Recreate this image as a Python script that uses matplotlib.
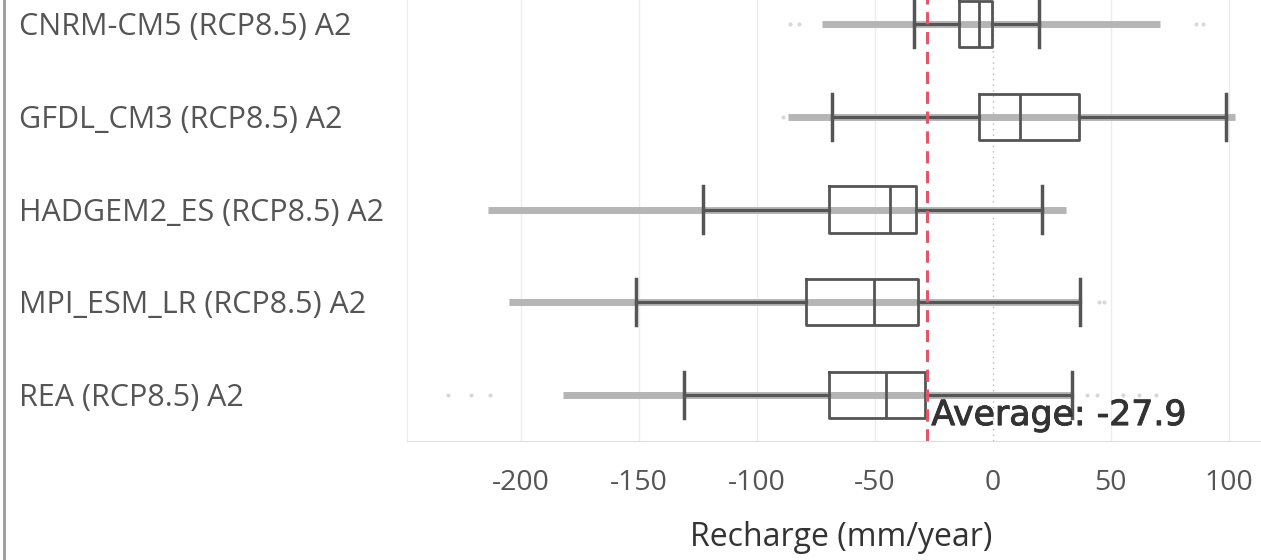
import matplotlib
matplotlib.use("Agg")
import matplotlib.pyplot as plt
from matplotlib.lines import Line2D
from matplotlib.transforms import blended_transform_factory, offset_copy
import matplotlib.patheffects as pe

models = ["CNRM-CM5 (RCP8.5) A2", "GFDL_CM3 (RCP8.5) A2", "HADGEM2_ES (RCP8.5) A2",
          "MPI_ESM_LR (RCP8.5) A2", "REA (RCP8.5) A2"]
whislo = [-33.5, -68.3, -122.7, -151.3, -131.0]
q1 = [-14.4, -5.8, -69.5, -79.2, -69.3]
med = [-5.9, 11.4, -43.7, -50.4, -45.3]
q3 = [-0.3, 36.5, -32.6, -31.6, -28.6]
whishi = [19.7, 98.7, 20.7, 36.9, 33.5]
strip_lo = [-72.5, -87.0, -214.0, -205.0, -182.0]
strip_hi = [71.0, 102.5, 31.0, 37.0, 33.5]
faint_pts = [[-86, -82, 86, 89], [-89], [], [45, 47], [-231, -221, -213, 40, 44, 55, 62, 69]]
average = -27.9
xticks = [-200, -150, -100, -50, 0, 50, 100]

W, H = 1261, 560
fig = plt.figure(figsize=(W / 100, H / 100), dpi=100)
left_px, right_px, bottom_px, top_px = 407, 1261, 441, -22
ax = fig.add_axes([left_px / W, (H - bottom_px) / H, (right_px - left_px) / W,
                   (bottom_px - top_px) / H])
ax.set_xlim(-248.3, 113.6)
ax.set_ylim(len(models) - 0.5, -0.5)

pos = list(range(len(models)))
for x in xticks:
    if x == 0:
        ax.axvline(0, color="#b8b8b8", lw=1.0, ls=(0, (1, 3)), zorder=0)
    else:
        ax.axvline(x, color="#ececec", lw=1.0, zorder=0)

# strips of points
ax.hlines(pos, strip_lo, strip_hi, color="#b5b5b5", lw=5.0, zorder=1)
for p, pts in zip(pos, faint_pts):
    ax.plot(pts, [p] * len(pts), ls="none", marker="o", ms=3, color="#d8d8d8",
            mec="none", zorder=1)

stats = []
for i in range(len(models)):
    stats.append(dict(med=med[i], q1=q1[i], q3=q3[i], whislo=whislo[i], whishi=whishi[i],
                      fliers=[]))
lc = "#555555"
ax.bxp(stats, positions=pos, widths=0.5, capwidths=0.5, vert=False, showfliers=False,
       patch_artist=False,
       boxprops=dict(color=lc, lw=2.0),
       medianprops=dict(color=lc, lw=2.0),
       whiskerprops=dict(color=lc, lw=2.3),
       capprops=dict(color=lc, lw=2.5), manage_ticks=False)

ax.axvline(average, color="#e0566a", lw=2.2, ls=(0, (4, 2.5)), zorder=5)
ax.text(average + 1.8, 4.22, f"Average: {average}", fontsize=25, color="#333333",
        family="DejaVu Sans", va="center", ha="left", zorder=6,
        path_effects=[pe.withStroke(linewidth=0.7, foreground="#333333")])

for s in ["top", "right"]:
    ax.spines[s].set_visible(False)
ax.spines["left"].set_color("#ececec")
ax.spines["bottom"].set_color("#dddddd")
ax.set_yticks([])
ax.set_xticks(xticks)
ax.set_xticklabels([str(x) for x in xticks])
ax.tick_params(axis="x", length=0, pad=20, labelsize=20.5, labelcolor="#555555")
for t in ax.get_xticklabels():
    t.set_family("Open Sans")

trans = offset_copy(blended_transform_factory(fig.transFigure, ax.transData),
                    fig=fig, x=0, y=-3, units="dots")
for p, m in zip(pos, models):
    ax.text(19 / W, p, m, transform=trans,
            fontsize=22, family="Open Sans", color="#555555", va="center", ha="left")

fig.text(841 / W, 1 - 538 / H, "Recharge (mm/year)", fontsize=23, family="Open Sans",
         color="#333333", ha="center", va="center")

fig.add_artist(Line2D([4 / W, 4 / W], [0, 1], transform=fig.transFigure, color="#9a9a9a", lw=2))

fig.savefig("out.png", dpi=100, facecolor="white")
